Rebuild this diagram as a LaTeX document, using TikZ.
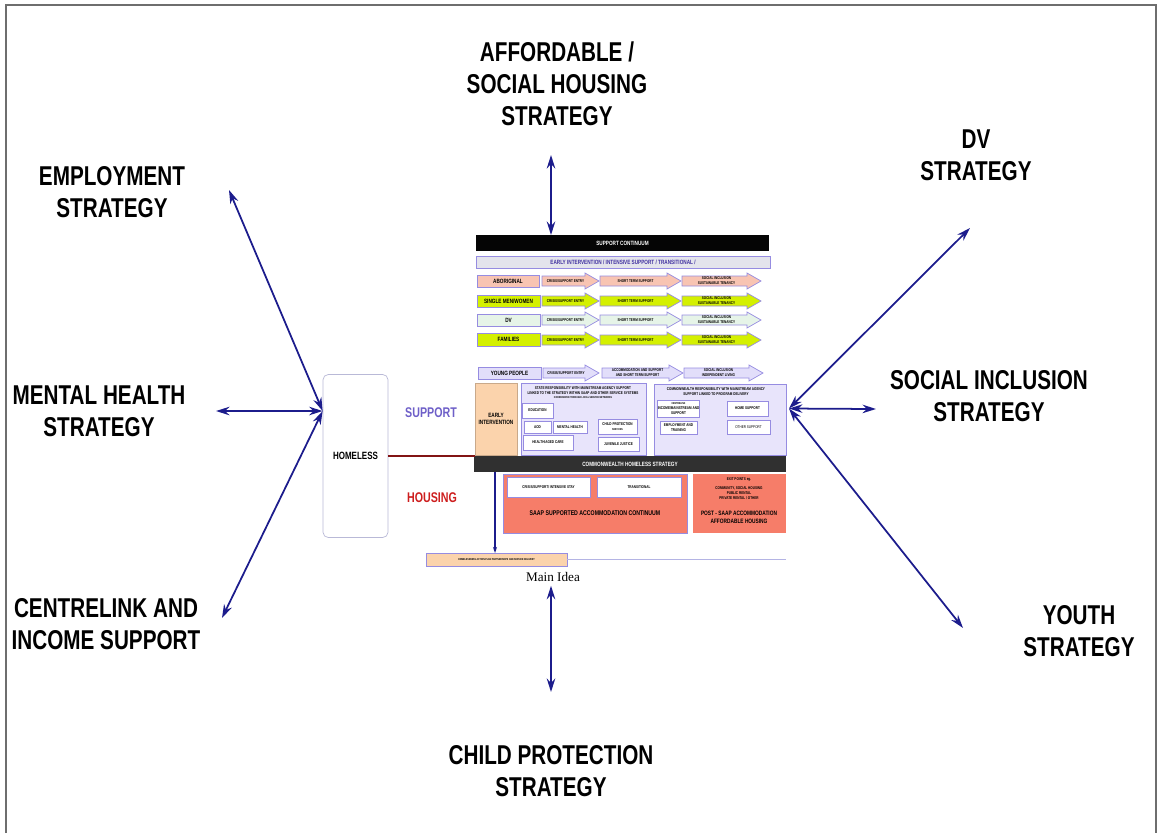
\documentclass[tikz,border=0pt]{standalone}
\usepackage{fontspec}
\setmainfont{Liberation Sans}
\newfontfamily\narrowfont[FakeStretch=0.76]{Liberation Sans}
\newfontfamily\ideafont{Liberation Serif}
\usetikzlibrary{arrows.meta}
\definecolor{linkblue}{RGB}{28,28,140}
\definecolor{framegray}{RGB}{110,110,110}
\definecolor{barblack}{RGB}{5,5,5}
\definecolor{bargray}{RGB}{48,48,48}
\definecolor{phasefill}{RGB}{228,228,236}
\definecolor{phasetext}{RGB}{64,48,160}
\definecolor{lilacline}{RGB}{150,140,225}
\definecolor{pinkrow}{RGB}{248,196,178}
\definecolor{limerow}{RGB}{212,240,0}
\definecolor{mintrow}{RGB}{230,244,232}
\definecolor{lilacrow}{RGB}{226,222,250}
\definecolor{peach}{RGB}{251,211,172}
\definecolor{lilacbox}{RGB}{232,228,251}
\definecolor{salmon}{RGB}{246,125,105}
\definecolor{supportblue}{RGB}{110,95,200}
\definecolor{housingred}{RGB}{205,30,30}
\definecolor{homelessline}{RGB}{130,20,20}
\definecolor{footline}{RGB}{180,180,228}
\definecolor{homelessedge}{RGB}{185,185,215}
\newcommand*{\pxu}{0.02cm}
\newcommand*{\tinyb}{\narrowfont\bfseries\fontsize{3.5}{4}\selectfont}
\newcommand*{\microb}{\narrowfont\bfseries\fontsize{2.3}{2.8}\selectfont}
% box from corner (x1,y1) to corner (x2,y2), in pixels
\newcommand{\cbox}[7]{%
	\node[panel, #6, minimum width={(#4-#2)*\pxu}, minimum height={(#5-#3)*\pxu}]
	(#1) at ({(#2+#4)/2},{(#3+#5)/2}) {#7};}
% chevron arrow of a support row
\newcommand{\flowarrow}[6]{%
	\draw[#5] ({#2},{#4-5}) -- ({#3-14},{#4-5}) -- ({#3-14},{#4-8}) -- ({#3},{#4})
	-- ({#3-14},{#4+8}) -- ({#3-14},{#4+5}) -- ({#2},{#4+5}) -- cycle;
	\node[microtext] (#1) at ({(#2+#3-10)/2},{#4}) {#6};}
\tikzset{>=Stealth,
	strategy/.style={
		font=\narrowfont\bfseries\fontsize{15.5}{18.2}\selectfont,
		align=center
	},
	link/.style={<->, draw=linkblue, line width=1pt,
		>={Stealth[length=0.27cm,width=0.17cm]}},
	panel/.style={inner sep=0pt, outer sep=0pt, align=center, font=\tinyb, line width=0.4pt},
	darkbar/.style={fill=barblack, text=white},
	phasebar/.style={fill=phasefill, draw=lilacline, text=phasetext},
	rowlabel/.style={draw=lilacline},
	smallbox/.style={fill=white, draw=lilacline, font=\microb},
	microtext/.style={font=\microb, align=center, inner sep=0pt},
	pinkarrow/.style={fill=pinkrow, draw=lilacline, line width=0.4pt},
	limearrow/.style={fill=limerow, draw=lilacline, line width=0.4pt},
	mintarrow/.style={fill=mintrow, draw=lilacline, line width=0.4pt},
	lilacarrow/.style={fill=lilacrow, draw=lilacline, line width=0.4pt}
}

\begin{document}
\begin{tikzpicture}[x=0.02cm, y=-0.02cm]
	\useasboundingbox (0,0) rectangle (1158,833);
	\draw[framegray, line width=0.8pt] (6,833) -- (6,5) -- (1156,5) -- (1156,833);
	
	% the strategies round the main idea
	\node[strategy] (afford) at (557,84) {AFFORDABLE /\\SOCIAL HOUSING\\STRATEGY};
	\node[strategy] (employ) at (112,192) {EMPLOYMENT\\STRATEGY};
	\node[strategy] (mental) at (99,411) {MENTAL HEALTH\\STRATEGY};
	\node[strategy] (centre) at (106,624) {CENTRELINK AND\\INCOME SUPPORT};
	\node[strategy] (child) at (551,771) {CHILD PROTECTION\\STRATEGY};
	\node[strategy] (dv) at (976,155) {DV\\STRATEGY};
	\node[strategy] (inclusion) at (989,396) {SOCIAL INCLUSION\\STRATEGY};
	\node[strategy] (youth) at (1079,631) {YOUTH\\STRATEGY};
	
	% homeless box
	\node[draw=homelessedge, fill=white, rounded corners=3pt, minimum width=65*\pxu,
		minimum height=163*\pxu, font=\narrowfont\bfseries\fontsize{6}{7}\selectfont] (homeless) at (355.5,456) {HOMELESS};
	\node[font=\narrowfont\bfseries\fontsize{8}{9}\selectfont, text=supportblue] (support) at (431,413) {SUPPORT};
	\node[font=\narrowfont\bfseries\fontsize{8}{9}\selectfont, text=housingred] (housing) at (432,498) {HOUSING};
	
	% support continuum
	\cbox{continuum}{476}{235}{769}{251}{darkbar}{SUPPORT CONTINUUM}
	\cbox{phases}{476}{256}{770}{268}{phasebar}{EARLY INTERVENTION / INTENSIVE SUPPORT / TRANSITIONAL /}
	
	\cbox{aboriginal}{477}{275}{539}{287}{rowlabel, fill=pinkrow}{ABORIGINAL}
	\flowarrow{ab1}{542}{599}{281}{pinkarrow}{CRISIS/SUPPORT ENTRY}
	\flowarrow{ab2}{600}{681}{281}{pinkarrow}{SHORT TERM SUPPORT}
	\flowarrow{ab3}{682}{761}{281}{pinkarrow}{SOCIAL INCLUSION\\SUSTAINABLE TENANCY}
	
	\cbox{single}{477}{295}{540}{307}{rowlabel, fill=limerow}{SINGLE MEN/WOMEN}
	\flowarrow{si1}{542}{599}{301}{limearrow}{CRISIS/SUPPORT ENTRY}
	\flowarrow{si2}{600}{681}{301}{limearrow}{SHORT TERM SUPPORT}
	\flowarrow{si3}{682}{761}{301}{limearrow}{SOCIAL INCLUSION\\SUSTAINABLE TENANCY}
	
	\cbox{dvrow}{477}{314}{540}{326}{rowlabel, fill=mintrow}{DV}
	\flowarrow{dv1}{542}{599}{320}{mintarrow}{CRISIS/SUPPORT ENTRY}
	\flowarrow{dv2}{600}{681}{320}{mintarrow}{SHORT TERM SUPPORT}
	\flowarrow{dv3}{682}{761}{320}{mintarrow}{SOCIAL INCLUSION\\SUSTAINABLE TENANCY}
	
	\cbox{families}{477}{333}{540}{346}{rowlabel, fill=limerow}{FAMILIES}
	\flowarrow{fa1}{542}{599}{340}{limearrow}{CRISIS/SUPPORT ENTRY}
	\flowarrow{fa2}{600}{681}{340}{limearrow}{SHORT TERM SUPPORT}
	\flowarrow{fa3}{682}{761}{340}{limearrow}{SOCIAL INCLUSION\\SUSTAINABLE TENANCY}
	
	\cbox{young}{478}{367}{541}{379}{rowlabel, fill=lilacrow}{YOUNG PEOPLE}
	\flowarrow{yo1}{543}{599}{373}{lilacarrow}{CRISIS/SUPPORT ENTRY}
	\flowarrow{yo2}{602}{683}{373}{lilacarrow}{ACCOMMODATION AND SUPPORT\\AND SHORT TERM SUPPORT}
	\flowarrow{yo3}{684}{763}{373}{lilacarrow}{SOCIAL INCLUSION\\INDEPENDENT LIVING}
	
	% early intervention and the two responsibilities
	\cbox{early}{475}{383}{517}{455}{fill=peach, draw=peach!80!black}{EARLY\\INTERVENTION}
	\cbox{state}{521}{383}{646}{455}{fill=lilacbox, draw=lilacline}{}
	\node[microtext] (statehead) at (583,393) {STATE RESPONSIBILITY WITH MAINSTREAM AGENCY SUPPORT\\LINKED TO THE STRATEGY WITHIN SAAP AND OTHER SERVICE SYSTEMS\\[-0.5pt]{\fontsize{1.6}{2}\selectfont COORDINATED THROUGH LOCAL SERVICE NETWORKS}};
	\cbox{education}{522}{403}{553}{418}{smallbox}{EDUCATION}
	\cbox{aod}{524}{421}{551}{433}{smallbox}{AOD}
	\cbox{mentbox}{553}{421}{587}{433}{smallbox}{MENTAL HEALTH}
	\cbox{childbox}{598}{419}{637}{434}{smallbox}{CHILD PROTECTION\\{\fontsize{1.6}{2}\selectfont SERVICES}}
	\cbox{health}{523}{435}{573}{450}{smallbox}{HEALTH/AGED CARE}
	\cbox{juvenile}{598}{437}{639}{451}{smallbox}{JUVENILE JUSTICE}
	
	\cbox{commresp}{654}{384}{786}{455}{fill=lilacbox, draw=lilacline}{}
	\node[microtext] (commhead) at (716,392) {COMMONWEALTH RESPONSIBILITY WITH MAINSTREAM AGENCY\\SUPPORT LINKED TO PROGRAM DELIVERY};
	\cbox{centbox}{660}{400}{697}{417}{smallbox}{{\fontsize{1.6}{2}\selectfont CENTRELINK}\\INCOME/MAINSTREAM AND\\SUPPORT}
	\cbox{trainbox}{660}{421}{697}{434}{smallbox}{EMPLOYMENT AND\\TRAINING}
	\cbox{homesupport}{727}{401}{768}{416}{smallbox}{HOME SUPPORT}
	\cbox{otherbox}{727}{420}{770}{434}{smallbox}{{\mdseries OTHER SUPPORT}}
	
	% housing
	\cbox{cwstrategy}{474}{456}{786}{472}{fill=bargray, text=white}{COMMONWEALTH HOMELESS STRATEGY}
	\cbox{saap}{503}{474}{687}{533}{fill=salmon, draw=lilacline}{}
	\cbox{crisis}{507}{477}{590}{497}{smallbox}{CRISIS/SUPPORT/ INTENSIVE STAY}
	\cbox{transitional}{597}{477}{681}{497}{smallbox}{TRANSITIONAL}
	\node[panel, font=\narrowfont\bfseries\fontsize{3.9}{4.5}\selectfont] (saaptext) at (595,513) {SAAP SUPPORTED ACCOMMODATION CONTINUUM};
	\cbox{postsaap}{693}{474}{786}{533}{fill=salmon}{}
	\node[microtext] (exit) at (739,479.5) {EXIT POINTS eg.};
	\node[microtext] (exitlist) at (739,493) {COMMUNITY, SOCIAL HOUSING\\PUBLIC RENTAL\\PRIVATE RENTAL / OTHER};
	\node[panel, font=\narrowfont\bfseries\fontsize{3.6}{4.6}\selectfont] (posttext) at (739,517.5) {POST - SAAP ACCOMMODATION\\AFFORDABLE HOUSING};
	
	% footer
	\cbox{footer}{426}{553}{567}{566}{fill=peach, draw=lilacline}{{\fontsize{1.6}{2}\selectfont HOMELESSNESS ACTION PLAN PARTNERSHIPS AND SERVICE DELIVERY}}
	\draw[footline, line width=0.8pt] (footer.east) -- (786,559.5);
	\node[font=\ideafont\fontsize{7.5}{9}\selectfont, inner sep=1pt] (idea) at (553,577) {Main Idea};
	
	% inner links
	\draw[homelessline, line width=0.6pt] (homeless.east) -- (early.west |- homeless.east);
	\coordinate (drop) at (495,472);
	\draw[->, linkblue, line width=0.6pt, >={Stealth[length=0.12cm,width=0.08cm]}] (drop) -- (drop |- footer.north);
	
	% links to the strategies
	\coordinate (hubL) at ([yshift=0.9cm]homeless.west);
	\coordinate (hubR) at ([xshift=0.06cm, yshift=0.22cm]commresp.east);
	\coordinate (employtip) at (229,190);
	\coordinate (mentaltip) at (216,411);
	\coordinate (centretip) at (222,618);
	\coordinate (affordtip) at (551,155);
	\coordinate (childtip) at (551,692);
	\coordinate (dvtip) at (970,228);
	\coordinate (inclusiontip) at (876,409);
	\coordinate (youthtip) at (963,628);
	\draw[link] (employtip) -- (hubL);
	\draw[link] (mentaltip) -- (hubL);
	\draw[link] (centretip) -- (hubL);
	\draw[link] (affordtip) -- (affordtip |- continuum.north);
	\draw[link] (childtip) -- ([yshift=-0.04cm]childtip |- idea.south);
	\draw[link] (hubR) -- (dvtip);
	\draw[link] (hubR) -- (inclusiontip);
	\draw[link] (hubR) -- (youthtip);
\end{tikzpicture}
\end{document}
